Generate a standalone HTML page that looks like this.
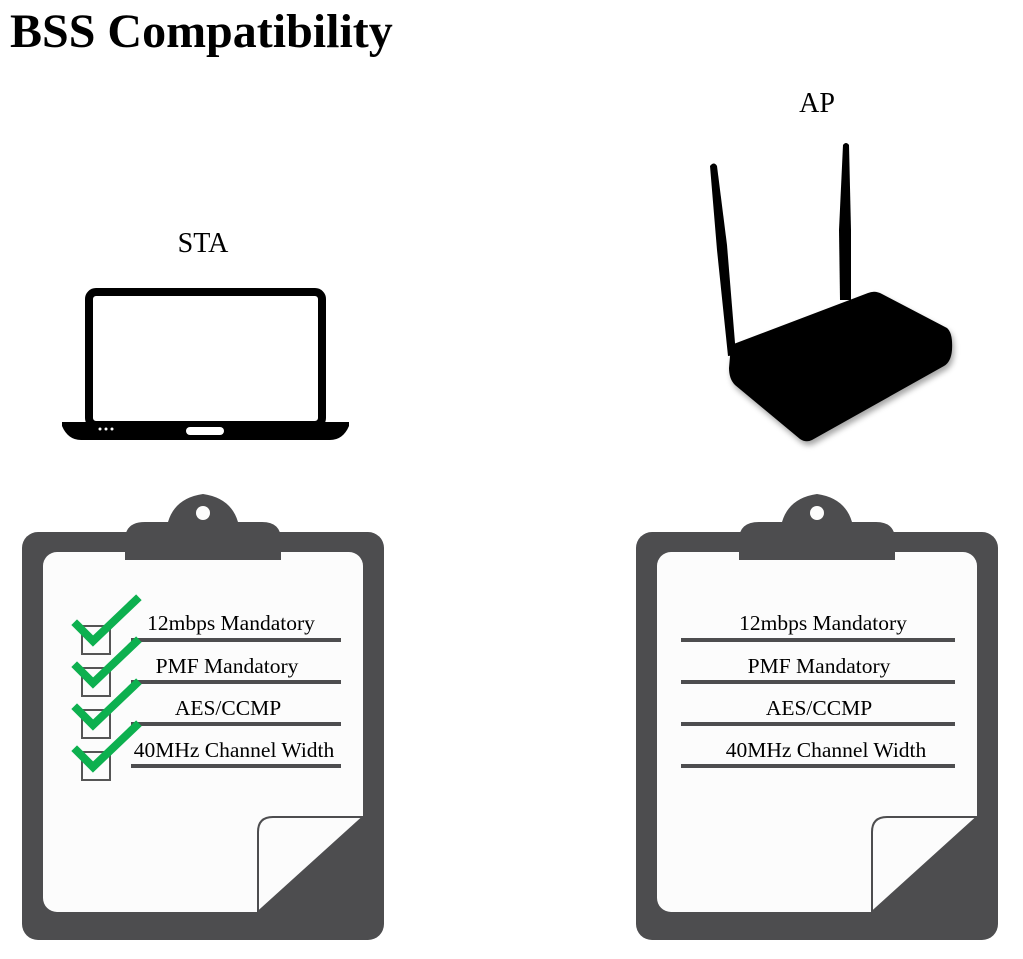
<!DOCTYPE html>
<html><head><meta charset="utf-8"><style>
body{margin:0;background:#fff;width:1023px;height:959px;overflow:hidden}
</style></head><body>
<svg width="1023" height="959" xmlns="http://www.w3.org/2000/svg" style="position:absolute;left:0;top:0">
<defs>
<g id="clip">
  <rect x="22" y="532" width="362" height="408" rx="16" fill="#4d4d4f"/>
  <rect x="43" y="552" width="320" height="360" rx="14" fill="#fcfcfc"/>
  <path d="M125 560 L125 540 Q125 522 145 522 L168 522 Q175 498 203 494 Q231 498 238 522 L262 522 Q281 522 281 540 L281 560 Z" fill="#4d4d4f"/>
  <circle cx="203" cy="513" r="7" fill="#fcfcfc"/>
  <path d="M363 817 L363 912 L258 912 Z" fill="#4d4d4f"/>
  <path d="M258 912 L258 832 Q258 817 273 817 L363 817 Z" fill="#fcfcfc" stroke="#4d4d4f" stroke-width="2"/>
</g>
</defs>
<text x="10" y="47" font-family="Liberation Serif, serif" font-weight="bold" font-size="48">BSS Compatibility</text>
<text x="203" y="252" font-family="Liberation Serif, serif" font-size="28" text-anchor="middle">STA</text>
<text x="817" y="112" font-family="Liberation Serif, serif" font-size="28" text-anchor="middle">AP</text>
<!-- laptop -->
<rect x="89" y="292" width="233" height="133" rx="7" fill="none" stroke="#000" stroke-width="8"/>
<path d="M62 422 L349 422 L349 426 Q343 440 330 440 L81 440 Q68 440 62 426 Z" fill="#000"/>
<rect x="186" y="427" width="38" height="8" rx="4" fill="#fff"/>
<circle cx="100" cy="429" r="1.5" fill="#fff"/><circle cx="106" cy="429" r="1.5" fill="#fff"/><circle cx="112" cy="429" r="1.5" fill="#fff"/>
<!-- router -->
<g fill="#000">
<path d="M710 166 Q714 161 717 166 L727 245 L736 355 L728 356 L717 250 Z"/>
<path d="M843 145 Q846 141 849 145 L851 230 L851 300 L840 300 L839 230 Z"/>
<path d="M731 345 L868 293 Q875 290 882 294 L947 328 Q953 333 952 350 Q951 362 944 366 L812 440 Q806 443 800 439 L735 385 Q729 379 729 368 Z" filter="drop-shadow(2px 4px 3px rgba(0,0,0,0.35))"/>
</g>
<!-- clipboards -->
<use href="#clip"/>
<use href="#clip" x="614"/>
<g font-family="Liberation Serif, serif" font-size="21.5" text-anchor="middle">
<text x="231" y="630">12mbps Mandatory</text>
<text x="227" y="673">PMF Mandatory</text>
<text x="228" y="715">AES/CCMP</text>
<text x="234" y="757">40MHz Channel Width</text>
<text x="823" y="630">12mbps Mandatory</text>
<text x="819" y="673">PMF Mandatory</text>
<text x="819" y="715">AES/CCMP</text>
<text x="826" y="757">40MHz Channel Width</text>
</g>
<g stroke="#4d4d4f" stroke-width="4">
<line x1="131" y1="640" x2="341" y2="640"/><line x1="131" y1="682" x2="341" y2="682"/>
<line x1="131" y1="724" x2="341" y2="724"/><line x1="131" y1="766" x2="341" y2="766"/>
<line x1="681" y1="640" x2="955" y2="640"/><line x1="681" y1="682" x2="955" y2="682"/>
<line x1="681" y1="724" x2="955" y2="724"/><line x1="681" y1="766" x2="955" y2="766"/>
</g>
<g fill="none" stroke="#555" stroke-width="2">
<rect x="82" y="626" width="28" height="28"/><rect x="82" y="668" width="28" height="28"/>
<rect x="82" y="710" width="28" height="28"/><rect x="82" y="752" width="28" height="28"/>
</g>
<g fill="none" stroke="#0db04f" stroke-width="8" stroke-linecap="square">
<path d="M77 625 L93 641 L136 600"/><path d="M77 667 L93 683 L136 642"/>
<path d="M77 709 L93 725 L136 684"/><path d="M77 751 L93 767 L136 726"/>
</g>
</svg>
</body></html>
